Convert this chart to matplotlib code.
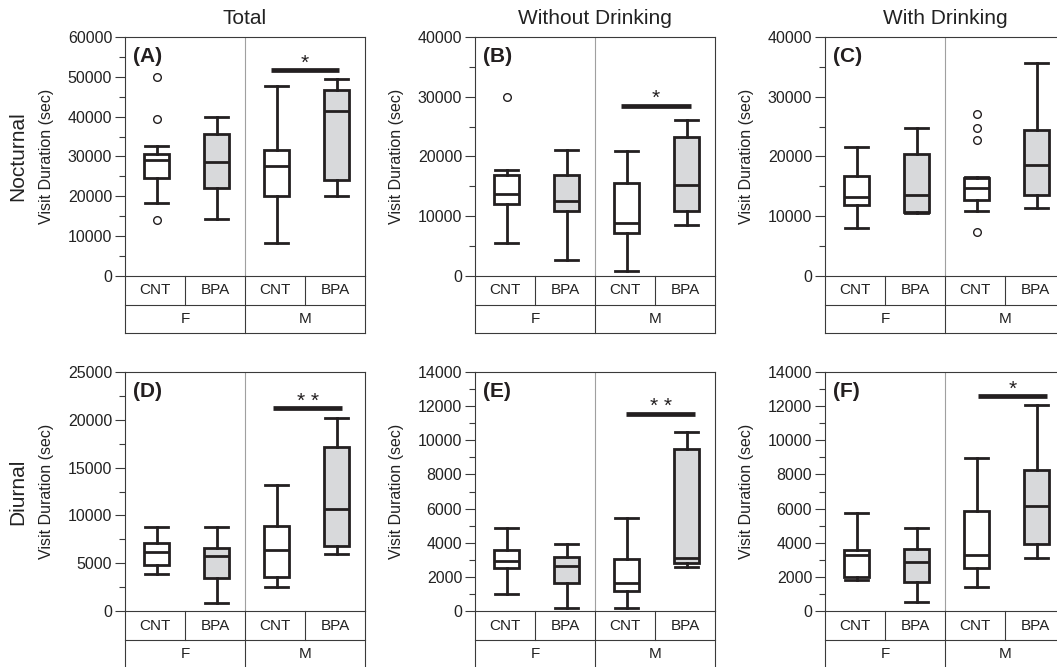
import matplotlib
matplotlib.use("Agg")
import matplotlib.pyplot as plt
from matplotlib.ticker import MultipleLocator

plt.rcParams['font.family'] = ['Liberation Sans', 'DejaVu Sans']

# labels
groups = ["CNT", "BPA", "CNT", "BPA"]
sexes = ["F", "M"]
col_titles = ["Total", "Without Drinking", "With Drinking"]
row_titles = ["Nocturnal", "Diurnal"]
letters = ["(A)", "(B)", "(C)", "(D)", "(E)", "(F)"]

# box stats, order: F-CNT, F-BPA, M-CNT, M-BPA
A_low = [18400, 14300, 8300, 20000]
A_q1 = [24500, 22200, 20200, 24100]
A_med = [29100, 28600, 27700, 41300]
A_q3 = [30700, 35700, 31600, 46700]
A_high = [32700, 40000, 47700, 49400]
A_fliers = [[50000, 39400, 14000], [], [], []]

B_low = [5500, 2600, 800, 8600]
B_q1 = [12100, 10800, 7200, 10800]
B_med = [13800, 12600, 8900, 15300]
B_q3 = [16900, 16900, 15600, 23300]
B_high = [17800, 21100, 20900, 26100]
B_fliers = [[29900], [], [], []]

C_low = [8000, 10500, 10800, 11300]
C_q1 = [11900, 10700, 12800, 13500]
C_med = [13300, 13500, 14700, 18500]
C_q3 = [16700, 20400, 16400, 24500]
C_high = [21600, 24700, 16500, 35600]
C_fliers = [[], [], [27100, 24700, 22800, 7400], []]

D_low = [3870, 800, 2470, 5950]
D_q1 = [4840, 3450, 3550, 6790]
D_med = [6200, 5750, 6370, 10700]
D_q3 = [7140, 6550, 8880, 17200]
D_high = [8740, 8740, 13200, 20200]
D_fliers = [[], [], [], []]

E_low = [990, 160, 160, 2550]
E_q1 = [2530, 1620, 1170, 2800]
E_med = [2920, 2650, 1620, 3100]
E_q3 = [3570, 3180, 3020, 9510]
E_high = [4890, 3900, 5440, 10500]
E_fliers = [[], [], [], []]

F_low = [1810, 530, 1400, 3100]
F_q1 = [2000, 1720, 2500, 3920]
F_med = [3270, 2880, 3260, 6160]
F_q3 = [3590, 3650, 5850, 8250]
F_high = [5750, 4890, 8970, 12070]
F_fliers = [[], [], [], []]

y_max = [60000, 40000, 40000, 25000, 14000, 14000]
y_step = [10000, 10000, 10000, 5000, 2000, 2000]

# significance bars: x from, x to, height, label
sig_x0 = [2.43, 2.43, None, 2.47, 2.52, 2.55]
sig_x1 = [3.57, 3.60, None, 3.62, 3.67, 3.70]
sig_y = [51700, 28500, None, 21200, 11560, 12580]
sig_txt = ["*", "*", "", "* *", "* *", "*"]

panels = [
    (A_low, A_q1, A_med, A_q3, A_high, A_fliers),
    (B_low, B_q1, B_med, B_q3, B_high, B_fliers),
    (C_low, C_q1, C_med, C_q3, C_high, C_fliers),
    (D_low, D_q1, D_med, D_q3, D_high, D_fliers),
    (E_low, E_q1, E_med, E_q3, E_high, E_fliers),
    (F_low, F_q1, F_med, F_q3, F_high, F_fliers),
]

W, H = 1057, 667
lefts = [125, 475, 825]
tops = [37, 372]
pw, ph = 240, 239
ink = "#231f20"
frame = "#3a3a3a"
grey_fill = "#d8d9db"

fig = plt.figure(figsize=(W / 100, H / 100), dpi=100)

for k, (low, q1, med, q3, high, fl) in enumerate(panels):
    r, c = divmod(k, 3)
    ax = fig.add_axes([lefts[c] / W, 1 - (tops[r] + ph) / H, pw / W, ph / H])
    stats = []
    for i in range(4):
        stats.append({"whislo": low[i], "q1": q1[i], "med": med[i],
                      "q3": q3[i], "whishi": high[i], "fliers": fl[i]})
    pos = [i + 0.53 for i in range(4)]
    bp = ax.bxp(stats, positions=pos, widths=0.42, capwidths=0.38,
                patch_artist=True, manage_ticks=False,
                boxprops=dict(edgecolor=ink, linewidth=2),
                whiskerprops=dict(color=ink, linewidth=2),
                capprops=dict(color=ink, linewidth=2),
                medianprops=dict(color=ink, linewidth=2),
                flierprops=dict(marker="o", mfc="white", mec=ink, ms=5.5, mew=1))
    for i, b in enumerate(bp["boxes"]):
        b.set_facecolor("white" if groups[i] == "CNT" else grey_fill)

    ax.set_xlim(0, 4)
    ax.set_ylim(0, y_max[k])
    ax.yaxis.set_major_locator(MultipleLocator(y_step[k]))
    ax.yaxis.set_minor_locator(MultipleLocator(y_step[k] / 2))
    ax.set_xticks([])
    ax.tick_params(axis="y", which="major", length=7.2, width=0.8, pad=2,
                   labelsize=11.5, color=frame, labelcolor="#222222")
    ax.tick_params(axis="y", which="minor", length=4.3, width=0.8, color=frame)
    for s in ax.spines.values():
        s.set_linewidth(0.8)
        s.set_color(frame)

    ax.axvline(2, color="#a0a0a0", lw=0.8, zorder=0)

    # category table under the axis
    tr = ax.get_xaxis_transform()
    r1 = -29 / ph
    r2 = -57 / ph
    kw = dict(transform=tr, clip_on=False, color=frame, lw=0.8)
    ax.plot([0, 4], [r1, r1], **kw)
    ax.plot([0, 4], [r2, r2], **kw)
    for xv in [0, 2, 4]:
        ax.plot([xv, xv], [r2, 0], **kw)
    for xv in [1, 3]:
        ax.plot([xv, xv], [r1, 0], **kw)
    for i, g in enumerate(groups):
        ax.text(i + 0.5, r1 / 2, g, transform=tr, ha="center", va="center",
                fontsize=11, color="#222222")
    for i, s in enumerate(sexes):
        ax.text(1 + 2 * i, (r1 + r2) / 2, s, transform=tr, ha="center",
                va="center", fontsize=11, color="#222222")

    ax.text(8 / pw, 1 - 10 / ph, letters[k], transform=ax.transAxes,
            ha="left", va="top", fontsize=15, fontweight="bold", color=ink)
    ax.text(-78 / pw, 0.5, "Visit Duration (sec)", transform=ax.transAxes,
            rotation=90, ha="center", va="center", fontsize=11.5, color="#222222")

    if sig_y[k] is not None:
        ax.plot([sig_x0[k], sig_x1[k]], [sig_y[k], sig_y[k]], color=ink,
                lw=3.4, solid_capstyle="butt")
        ax.annotate(sig_txt[k], xy=((sig_x0[k] + sig_x1[k]) / 2, sig_y[k]),
                    xytext=(0, 1), textcoords="offset points", ha="center",
                    va="baseline", fontsize=15, color=ink)

for c, t in enumerate(col_titles):
    fig.text((lefts[c] + pw / 2) / W, 1 - 19 / H, t, ha="center", va="center",
             fontsize=15, color="#222222")
for r, t in enumerate(row_titles):
    fig.text(18 / W, 1 - (tops[r] + ph / 2) / H, t, rotation=90, ha="center",
             va="center", fontsize=15, color="#222222")

fig.savefig("out.png", dpi=100)
